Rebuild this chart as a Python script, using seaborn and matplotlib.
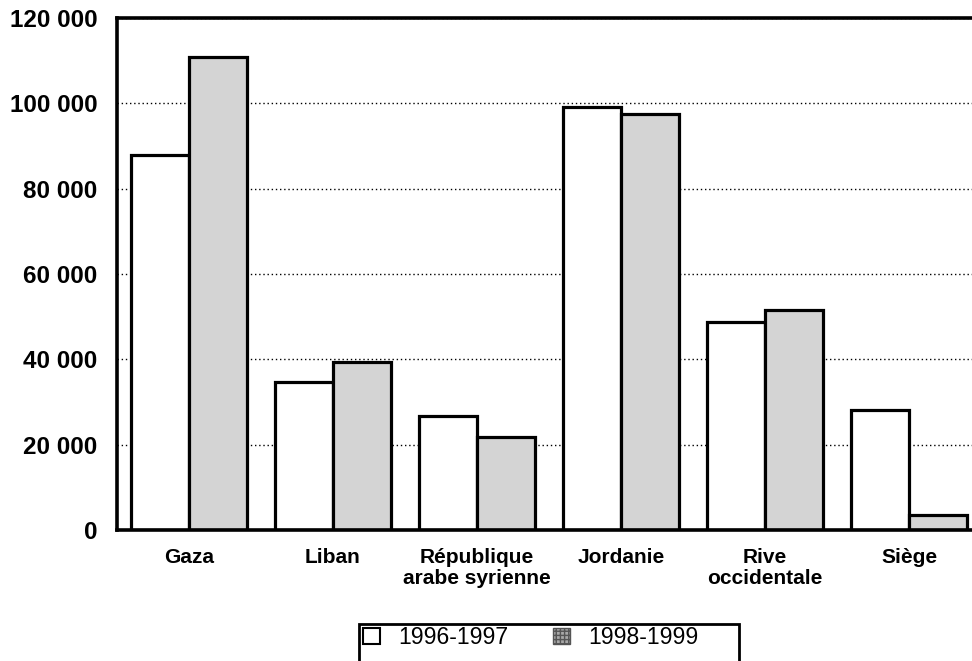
import matplotlib
matplotlib.use("Agg")
import matplotlib.pyplot as plt
import seaborn as sns
import pandas as pd
from matplotlib.patches import Patch, Rectangle
from matplotlib.ticker import FuncFormatter

# Data
regions = ["Gaza", "Liban", "République\narabe syrienne", "Jordanie",
           "Rive\noccidentale", "Siège"]
periods = ["1996-1997", "1998-1999"]
values_1996_1997 = [88000, 34800, 26800, 99200, 48700, 28200]
values_1998_1999 = [110800, 39400, 21700, 97500, 51500, 3500]
y_ticks = [0, 20000, 40000, 60000, 80000, 100000, 120000]

df = pd.DataFrame({
    "region": regions * 2,
    "period": [periods[0]] * len(regions) + [periods[1]] * len(regions),
    "value": values_1996_1997 + values_1998_1999,
})

sns.set_theme(style="white")
plt.rcParams["font.family"] = ["Liberation Sans", "DejaVu Sans"]
plt.rcParams["font.weight"] = "bold"
plt.rcParams["text.color"] = "black"

fig = plt.figure(figsize=(9.72, 6.61), dpi=100)
ax = fig.add_axes([117 / 972, 1 - 530 / 661, 864 / 972, 512 / 661])

fill_colors = ["white", "#d4d4d4"]
sns.barplot(data=df, x="region", y="value", hue="period", order=regions,
            hue_order=periods, palette=fill_colors, edgecolor="black",
            linewidth=2.3, width=0.8, gap=0, saturation=1, ax=ax,
            legend=False)

ax.set_xlim(-0.5, len(regions) - 0.5)
ax.set_ylim(0, 120000)
ax.set_xlabel("")
ax.set_ylabel("")

# y axis
ax.set_yticks(y_ticks)
ax.yaxis.set_major_formatter(
    FuncFormatter(lambda v, _: f"{int(v):,}".replace(",", " ")))
ax.tick_params(axis="y", length=0, pad=14, labelsize=17.5, labelcolor="black")
ax.set_axisbelow(True)
ax.yaxis.grid(True, color="black", linewidth=1.0, linestyle=(0, (1, 2)))
ax.xaxis.grid(False)

# x axis: separators between groups, labels at group centres
ax.set_xticks([i - 0.5 for i in range(len(regions) + 1)])
ax.set_xticklabels([])
ax.tick_params(axis="x", which="major", direction="inout", length=17,
               width=2.2, color="black")
ax.set_xticks(range(len(regions)), minor=True)
ax.set_xticklabels(regions, minor=True, fontsize=15, linespacing=1.1)
ax.tick_params(axis="x", which="minor", length=0, pad=13, labelcolor="black")

for side in ["left", "bottom", "top"]:
    ax.spines[side].set_visible(True)
    ax.spines[side].set_color("black")
    ax.spines[side].set_linewidth(2.6)
ax.spines["right"].set_visible(False)

# legend below the chart, in a square black frame
handles = [Patch(facecolor=fill_colors[0], edgecolor="black", linewidth=1.5),
           Patch(facecolor="#a8a8a8", edgecolor="#555555", linewidth=1.0,
                 hatch="++++")]
leg = fig.legend(handles, periods, loc="upper left",
                 bbox_to_anchor=(363 / 972, 1 - 626 / 661), ncol=2,
                 frameon=False, prop={"size": 16.6, "weight": "normal"},
                 labelcolor="black",
                 borderpad=0, handlelength=0.74, handleheight=0.74,
                 handletextpad=0.78, columnspacing=1.95, borderaxespad=0)
fig.add_artist(Rectangle((359 / 972, 1 - 680 / 661), 380 / 972, 56 / 661,
                         transform=fig.transFigure, facecolor="none",
                         edgecolor="black", linewidth=2.0))

fig.savefig("out.png", dpi=100)
